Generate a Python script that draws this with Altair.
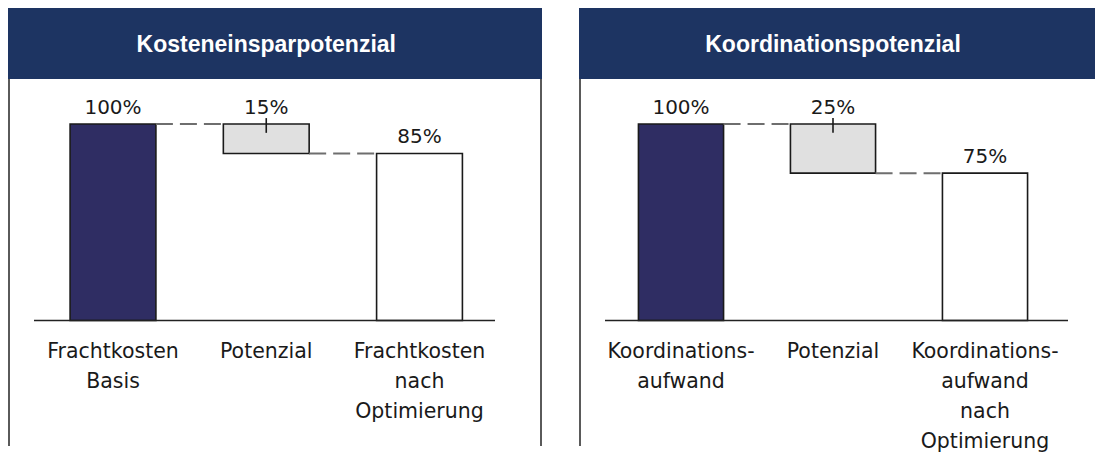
import altair as alt
import pandas as pd

# ---- data ----
left_title = "Kosteneinsparpotenzial"
left_labels = ["Frachtkosten\nBasis", "Potenzial", "Frachtkosten\nnach\nOptimierung"]
left_values = [100, 15, 85]

right_title = "Koordinationspotenzial"
right_labels = ["Koordinations-\naufwand", "Potenzial", "Koordinations-\naufwand\nnach\nOptimierung"]
right_values = [100, 25, 75]

bar_fills = ["#2f2d63", "#e0e0e0", "#ffffff"]

# ---- styling ----
H = 438
HEADER_H = 71
Y_RANGE = [312.5, 116]
HALF = 0.28
FONT = "DejaVu Sans"


def panel(title, labels, values, W, x_range, axis_end, right_border):
    xs = alt.Scale(domain=[0, 2], range=x_range)
    ys = alt.Scale(domain=[0, 100], range=Y_RANGE)

    lows = [0, values[0] - values[1], 0]
    highs = [values[0], values[0], values[2]]
    bars = pd.DataFrame({
        "idx": [0, 1, 2],
        "lo": lows,
        "hi": highs,
        "fill": bar_fills,
        "txt": [f"{v}%" for v in values],
        "cat": labels,
    })
    conn = pd.DataFrame({"idx": [0, 1], "level": [highs[0], highs[2]]})
    base = pd.DataFrame({"v": [0]})
    head = pd.DataFrame({"idx": [1], "t": [title]})

    header = alt.Chart(head).mark_rect(color="#1d3462").encode(
        x=alt.value(0), x2=alt.value(W), y=alt.value(0), y2=alt.value(HEADER_H)
    )
    header_text = alt.Chart(head).mark_text(
        color="white", fontWeight="bold", fontSize=23, font="Liberation Sans",
        baseline="alphabetic"
    ).encode(
        x=alt.X("idx:Q", scale=xs, axis=None), y=alt.value(44), text="t:N"
    )
    borders = [
        alt.Chart(base).mark_rule(color="#5a5a5a", strokeWidth=2).encode(
            x=alt.value(1), y=alt.value(HEADER_H), y2=alt.value(H)
        )
    ]
    if right_border:
        borders.append(
            alt.Chart(base).mark_rule(color="#5a5a5a", strokeWidth=2).encode(
                x=alt.value(W - 1), y=alt.value(HEADER_H), y2=alt.value(H)
            )
        )
    bar = alt.Chart(bars).transform_calculate(
        x0=f"datum.idx - {HALF}", x1=f"datum.idx + {HALF}"
    ).mark_bar(stroke="#1a1a1a", strokeWidth=1.6).encode(
        x=alt.X("x0:Q", scale=xs, axis=None),
        x2="x1:Q",
        y=alt.Y("lo:Q", scale=ys, axis=None),
        y2="hi:Q",
        fill=alt.Fill("fill:N", scale=None),
    )
    connectors = alt.Chart(conn).transform_calculate(
        a=f"datum.idx + {HALF}", b=f"datum.idx + 1 - {HALF}"
    ).mark_rule(color="#6e6e6e", strokeWidth=2, strokeDash=[17, 7]).encode(
        x=alt.X("a:Q", scale=xs, axis=None),
        x2="b:Q",
        y=alt.Y("level:Q", scale=ys, axis=None),
    )
    baseline = alt.Chart(base).mark_rule(color="#222222", strokeWidth=1.6).encode(
        x=alt.value(26), x2=alt.value(axis_end),
        y=alt.Y("v:Q", scale=ys, axis=None),
    )
    tick = alt.Chart(bars).transform_filter("datum.idx == 1").transform_calculate(
        t1="datum.hi + 3", t2="datum.hi - 4.5"
    ).mark_rule(color="#1a1a1a", strokeWidth=1.6).encode(
        x=alt.X("idx:Q", scale=xs, axis=None),
        y=alt.Y("t1:Q", scale=ys, axis=None),
        y2="t2:Q",
    )
    value_labels = alt.Chart(bars).mark_text(
        dy=-10, baseline="alphabetic", fontSize=20, font=FONT, color="#1a1a1a"
    ).encode(
        x=alt.X("idx:Q", scale=xs, axis=None),
        y=alt.Y("hi:Q", scale=ys, axis=None),
        text="txt:N",
    )
    cat_labels = alt.Chart(bars).mark_text(
        baseline="top", lineBreak="\n", lineHeight=30, fontSize=20.5, font=FONT,
        color="#1a1a1a"
    ).encode(
        x=alt.X("idx:Q", scale=xs, axis=None),
        y=alt.value(334),
        text="cat:N",
    )
    layers = [header, header_text, bar, connectors, baseline, tick,
              value_labels, cat_labels] + borders
    return alt.layer(*layers).properties(width=W, height=H)


left = panel(left_title, left_labels, left_values, 534, [105, 411.5], 487, True)
right = panel(right_title, right_labels, right_values, 516, [102, 406], 489, False)

chart = alt.hconcat(left, right, spacing=37).resolve_scale(
    x="independent", y="independent"
).configure_view(stroke=None).properties(padding=0)

chart.save("out.html", embed_options={"renderer": "svg", "actions": False})
